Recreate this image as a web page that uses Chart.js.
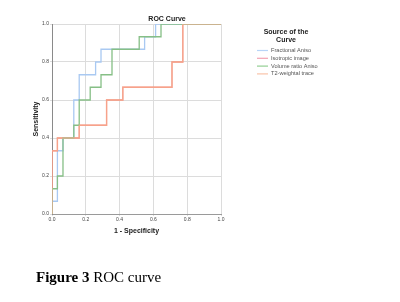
<!DOCTYPE html>
<html>
<head>
<meta charset="utf-8">
<script src="https://cdn.jsdelivr.net/npm/chart.js@4"></script>
<style>
  html, body { margin: 0; padding: 0; background: #fff; }
  #wrap { width: 400px; height: 302px; position: relative; }
</style>
</head>
<body>
<div id="wrap"><canvas id="roc" width="400" height="302"></canvas></div>
<script>
// ROC coordinates (1 - specificity, sensitivity), corner points of each step curve
const fracFpr = [0, 0, 0.032, 0.032, 0.065, 0.065, 0.129, 0.129, 0.161, 0.161, 0.258, 0.258, 0.29, 0.29, 0.548, 0.548, 0.613, 0.613, 1];
const fracTpr = [0, 0.067, 0.067, 0.333, 0.333, 0.4, 0.4, 0.6, 0.6, 0.733, 0.733, 0.8, 0.8, 0.867, 0.867, 0.933, 0.933, 1, 1];

const isoFpr = [0, 0, 0.032, 0.032, 0.161, 0.161, 0.323, 0.323, 0.419, 0.419, 0.71, 0.71, 0.774, 0.774, 1];
const isoTpr = [0, 0.333, 0.333, 0.4, 0.4, 0.467, 0.467, 0.6, 0.6, 0.667, 0.667, 0.8, 0.8, 1, 1];

const volFpr = [0, 0, 0.032, 0.032, 0.065, 0.065, 0.129, 0.129, 0.161, 0.161, 0.226, 0.226, 0.29, 0.29, 0.355, 0.355, 0.516, 0.516, 0.645, 0.645, 1];
const volTpr = [0, 0.133, 0.133, 0.2, 0.2, 0.4, 0.4, 0.467, 0.467, 0.6, 0.6, 0.667, 0.667, 0.733, 0.733, 0.867, 0.867, 0.933, 0.933, 1, 1];

// T2-weighted trace lies on top of the isotropic image curve
const t2Fpr = [0, 0, 0.032, 0.032, 0.161, 0.161, 0.323, 0.323, 0.419, 0.419, 0.71, 0.71, 0.774, 0.774, 1];
const t2Tpr = [0, 0.333, 0.333, 0.4, 0.4, 0.467, 0.467, 0.6, 0.6, 0.667, 0.667, 0.8, 0.8, 1, 1];

const seriesNames = ["Fractional Aniso", "Isotropic image", "Volume ratio Aniso", "T2-weightal trace"];
const tickValues = [0, 0.2, 0.4, 0.6, 0.8, 1.0];

const lineColors = ["#a9c9f2", "#f08474", "#86bf86", "rgba(250,178,150,0.65)"];
const legendColors = ["#b7d4f7", "#f2a2b3", "#93cf93", "#f9c3a8"];

function pts(xs, ys) {
  return xs.map((x, i) => ({ x, y: ys[i] }));
}

const datasets = [
  [fracFpr, fracTpr],
  [isoFpr, isoTpr],
  [volFpr, volTpr],
  [t2Fpr, t2Tpr],
].map(([xs, ys], i) => ({
  label: seriesNames[i],
  data: pts(xs, ys),
  showLine: true,
  borderColor: lineColors[i],
  borderWidth: 1.3,
  pointRadius: 0,
  fill: false,
  order: 3 - i,
}));

// title, legend and figure caption
const extras = {
  id: "extras",
  afterDraw(chart) {
    const ctx = chart.ctx;
    ctx.save();
    ctx.fillStyle = "#222";
    ctx.textAlign = "center";
    ctx.textBaseline = "middle";
    ctx.font = "bold 7px 'Liberation Sans', Arial, sans-serif";
    ctx.fillText("ROC Curve", 167, 19);

    ctx.font = "bold 7px 'Liberation Sans', Arial, sans-serif";
    ctx.fillText("Source of the", 286, 32);
    ctx.fillText("Curve", 286, 40);

    ctx.textAlign = "left";
    ctx.font = "5.6px 'Liberation Sans', Arial, sans-serif";
    seriesNames.forEach((name, i) => {
      const y = 50.5 + i * 7.8;
      ctx.strokeStyle = legendColors[i];
      ctx.lineWidth = 1.2;
      ctx.beginPath();
      ctx.moveTo(257, y);
      ctx.lineTo(268, y);
      ctx.stroke();
      ctx.fillStyle = "#555";
      ctx.fillText(name, 271, y);
    });

    ctx.fillStyle = "#000";
    ctx.textBaseline = "alphabetic";
    ctx.font = "bold 15px 'Liberation Serif', 'Times New Roman', serif";
    const lead = "Figure 3";
    ctx.fillText(lead, 36, 282);
    const w = ctx.measureText(lead).width;
    ctx.font = "15px 'Liberation Serif', 'Times New Roman', serif";
    ctx.fillText(" ROC curve", 36 + w, 282);
    ctx.restore();
  },
};

new Chart(document.getElementById("roc"), {
  type: "scatter",
  data: { datasets },
  plugins: [extras],
  options: {
    responsive: false,
    animation: false,
    layout: { padding: { left: 28, right: 179, top: 24, bottom: 67 } },
    plugins: {
      legend: { display: false },
      tooltip: { enabled: false },
    },
    scales: {
      x: {
        type: "linear",
        min: 0,
        max: 1,
        afterBuildTicks: (s) => { s.ticks = tickValues.map((v) => ({ value: v })); },
        afterFit: (s) => { s.height = 21; },
        grid: { color: "#dcdcdc", lineWidth: 1, tickLength: 2, drawTicks: true },
        border: { color: "#9a9a9a" },
        ticks: {
          color: "#444",
          padding: 1,
          maxRotation: 0,
          font: { size: 5, family: "'Liberation Sans', Arial, sans-serif" },
          callback: (v) => Number(v).toFixed(1),
        },
        title: {
          display: true,
          text: "1 - Specificity",
          color: "#222",
          padding: { top: 0, bottom: 0 },
          font: { size: 7, weight: "bold", family: "'Liberation Sans', Arial, sans-serif" },
        },
      },
      y: {
        type: "linear",
        min: 0,
        max: 1,
        afterBuildTicks: (s) => { s.ticks = tickValues.map((v) => ({ value: v })); },
        afterFit: (s) => { s.width = 24; },
        grid: { color: "#dcdcdc", lineWidth: 1, tickLength: 2 },
        border: { color: "#8a8a8a" },
        ticks: {
          color: "#444",
          padding: 1,
          font: { size: 5, family: "'Liberation Sans', Arial, sans-serif" },
          callback: (v) => Number(v).toFixed(1),
        },
        title: {
          display: true,
          text: "Sensitivity",
          color: "#222",
          padding: { bottom: 0 },
          font: { size: 7, weight: "bold", family: "'Liberation Sans', Arial, sans-serif" },
        },
      },
    },
  },
});
</script>
</body>
</html>
